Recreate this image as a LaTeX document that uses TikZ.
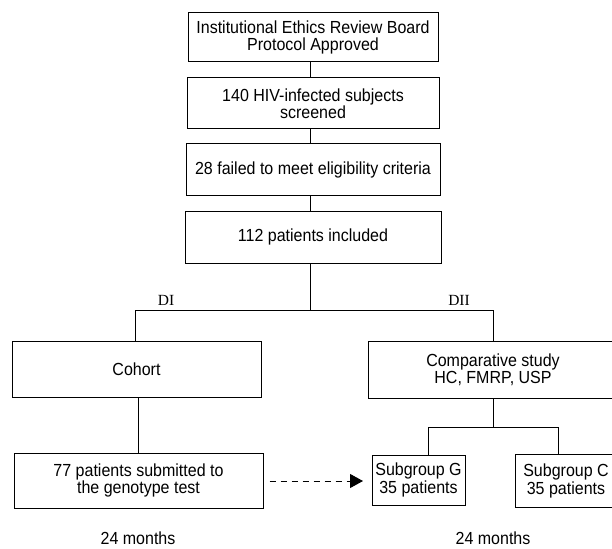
\documentclass[tikz,border=0pt]{standalone}
\usepackage{fontspec}
\setmainfont{Liberation Sans}[FakeStretch=0.915]
\newfontfamily\serifdi{Liberation Serif}
\usetikzlibrary{arrows.meta}
\begin{document}
\begin{tikzpicture}[x=1pt,y=-1pt,
  line width=1pt,
  boxnode/.style={draw, rectangle, inner sep=0pt, align=center, line width=1pt,
    font=\fontsize{17.5}{15}\selectfont},
  openbox/.style={rectangle, inner sep=0pt, align=center,
    font=\fontsize{17.5}{15}\selectfont},
  plaintext/.style={inner sep=0pt, font=\fontsize{17.5}{15}\selectfont},
  divlabel/.style={inner sep=0pt, font=\serifdi\fontsize{15.5}{15.5}\selectfont},
  conn/.style={line width=1pt},
  dasharrow/.style={line width=1pt, dash pattern=on 6pt off 5pt, -{Triangle[length=13pt,width=14pt]}}
]
\useasboundingbox (0,0) rectangle (612,548);
\clip (0,0) rectangle (612,548);
\fill[white] (0,0) rectangle (612,548);

% top column
\node[boxnode, minimum width=250pt, minimum height=49pt, font=\fontsize{17.5}{17}\selectfont] (b1) at (313,37.5)
  {Institutional Ethics Review Board\\Protocol Approved};
\node[boxnode, minimum width=252pt, minimum height=51pt] (b2) at (313,103.5)
  {140 HIV-infected subjects\\screened};
\node[boxnode, minimum width=254pt, minimum height=51pt] (b3) at (313,169.5)
  {28 failed to meet eligibility criteria};
\node[boxnode, minimum width=256pt, minimum height=52pt] (b4) at (313,237)
  {112 patients included};

\coordinate (spine) at (310,0);
\coordinate (split) at (310,310);
\coordinate (leftend) at (135,310);
\coordinate (rightend) at (493,310);

% left branch
\node[boxnode, minimum width=249pt, minimum height=56pt] (cohort) at (136.5,369) {Cohort};
\node[boxnode, minimum width=249pt, minimum height=55pt] (geno) at (138.5,480.5)
  {77 patients submitted to\\the genotype test};

% right branch (boxes cut off by the right edge of the picture)
\node[openbox, minimum width=248pt, minimum height=56pt] (comp) at (493,370)
  {Comparative study\\HC, FMRP, USP};
\draw[conn] ([xshift=30pt]comp.north east) -- (comp.north west) -- (comp.south west) -- ([xshift=30pt]comp.south east);
\node[boxnode, minimum width=93pt, minimum height=50pt] (subg) at (418.5,480)
  {Subgroup G\\35 patients};
\node[openbox, minimum width=100pt, minimum height=52pt] (subc) at (566,481)
  {Subgroup C\\35 patients};
\draw[conn] ([xshift=30pt]subc.north east) -- (subc.north west) -- (subc.south west) -- ([xshift=30pt]subc.south east);

\coordinate (fork) at (493,427);
\coordinate (forkl) at (428,427);
\coordinate (forkr) at (558,427);

% connectors
\draw[conn] (b1.south -| spine) -- (b2.north -| spine);
\draw[conn] (b2.south -| spine) -- (b3.north -| spine);
\draw[conn] (b3.south -| spine) -- (b4.north -| spine);
\draw[conn] (b4.south -| spine) -- (split);
\draw[conn] (cohort.north -| leftend) -- (leftend) -- (rightend) -- (comp.north -| rightend);
\draw[conn] (cohort.south -| 138,0) -- (geno.north -| 138,0);
\draw[conn] (comp.south -| fork) -- (fork);
\draw[conn] (subg.north -| forkl) -- (forkl) -- (forkr) -- (subc.north -| forkr);
\draw[dasharrow] (geno.east |- 0,481) ++(6,0) -- (363,481);

% labels
\node[divlabel] (di) at (166,300) {DI};
\node[divlabel] (dii) at (459,300) {DII};
\node[plaintext] (m1) at (138,538) {24 months};
\node[plaintext] (m2) at (493,538) {24 months};
\end{tikzpicture}
\end{document}
